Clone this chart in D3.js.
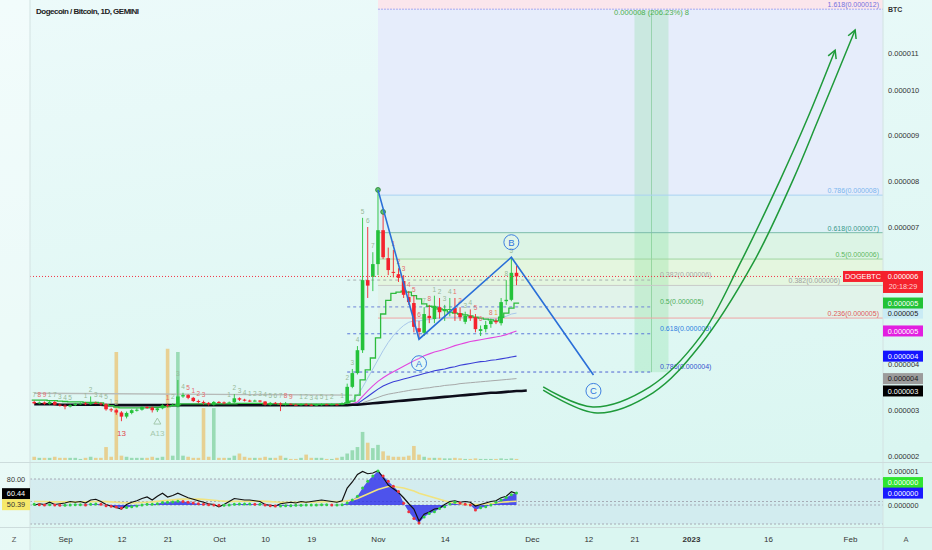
<!DOCTYPE html>
<html><head><meta charset="utf-8">
<script src="https://cdn.jsdelivr.net/npm/d3@7/dist/d3.min.js"></script>
<style>
html,body{margin:0;padding:0;background:#fff;}
svg{display:block;font-family:"Liberation Sans",Arial,sans-serif;}
</style></head><body>
<svg id="chart" width="932" height="550"></svg>
<script>
// ================= DATA =================
const title = "Dogecoin / Bitcoin, 1D, GEMINI";
const candleStart = "2022-08-26";           // first daily candle
// prices in units of 1e-6 BTC
const open = [
3.18,3.15,3.17,3.14,3.18,3.12,
3.10,3.08,3.11,3.14,3.15,3.13,3.16,3.15,3.13,3.02,
3.00,2.95,2.86,2.94,3.00,3.01,3.07,3.06,3.00,3.04,
3.11,3.10,3.08,3.30,3.33,3.27,3.20,3.18,3.16,3.12,
3.18,3.17,3.15,3.17,3.26,3.23,3.21,3.20,3.21,3.19,
3.12,3.16,3.15,3.12,3.14,3.12,3.11,3.13,3.12,3.11,
3.12,3.13,3.12,3.13,3.12,
3.15,3.51,3.81,4.31,5.84,5.91,
6.19,6.93,6.32,6.02,5.97,5.82,5.47,5.34,4.79,4.69,
5.06,4.99,5.25,5.16,5.19,5.23,5.12,4.93,5.06,5.03,
4.73,4.77,4.88,4.95,4.90,5.38,5.41,6.00];
const close = [
3.15,3.17,3.14,3.18,3.12,3.10,
3.08,3.11,3.14,3.15,3.13,3.16,3.15,3.13,3.02,3.00,
2.95,2.86,2.94,3.00,3.01,3.07,3.06,3.00,3.04,3.11,
3.10,3.12,3.30,3.33,3.27,3.20,3.18,3.16,3.13,3.18,
3.17,3.15,3.17,3.26,3.23,3.21,3.20,3.21,3.19,3.12,
3.16,3.15,3.12,3.14,3.12,3.11,3.13,3.12,3.11,3.12,
3.13,3.12,3.13,3.12,3.15,
3.51,3.81,4.31,5.84,5.72,6.19,
6.93,6.34,6.06,6.00,5.89,5.52,5.36,4.82,4.71,5.10,
5.01,5.28,5.14,5.21,5.21,5.12,5.03,5.06,5.01,4.77,
4.77,4.86,4.95,4.92,5.36,5.41,6.00,5.92];
const high = [
3.21,3.19,3.19,3.21,3.20,3.15,
3.13,3.13,3.16,3.17,3.18,3.30,3.19,3.17,3.15,3.05,
3.03,2.98,2.97,3.02,3.04,3.09,3.09,3.08,3.06,3.13,
3.14,3.15,3.66,3.38,3.35,3.29,3.23,3.21,3.18,3.20,
3.20,3.19,3.19,3.35,3.28,3.25,3.23,3.23,3.22,3.20,
3.18,3.18,3.17,3.18,3.15,3.14,3.15,3.15,3.14,3.14,
3.15,3.14,3.15,3.14,3.17,
3.58,3.90,4.40,7.20,7.00,6.45,
7.81,7.33,6.55,6.50,6.10,5.95,5.60,5.50,4.95,5.25,
5.30,5.50,5.45,5.30,5.45,5.45,5.25,5.15,5.20,5.10,
4.85,4.95,5.00,5.00,5.45,5.84,6.34,6.15];
const low = [
3.13,3.13,3.12,3.12,3.10,3.08,
3.02,3.06,3.09,3.12,3.11,3.12,3.13,3.10,2.99,2.96,
2.90,2.76,2.82,2.91,2.97,2.99,3.03,2.95,2.96,3.02,
3.06,3.08,3.06,3.27,3.24,3.18,3.15,3.12,3.10,3.10,
3.15,3.13,3.13,3.16,3.20,3.19,3.18,3.19,3.17,3.10,
3.10,3.13,2.98,3.10,3.11,3.10,3.10,3.10,3.09,3.10,
3.10,3.11,3.11,3.10,3.11,
3.13,3.48,3.78,4.25,5.45,5.60,
5.95,6.30,5.95,5.90,5.80,5.45,5.30,4.70,4.55,4.62,
4.90,4.90,5.00,4.95,5.05,4.95,4.95,4.88,4.95,4.70,
4.62,4.70,4.80,4.88,4.85,5.30,5.38,5.73];
const volume = [
3,2,2,2,3,2,
2,2,2,1,2,3,2,2,12,3,
100,4,3,2,2,2,2,3,2,3,
103,4,100,4,3,2,2,48,3,48,
2,2,2,4,6,3,2,2,2,3,
2,2,4,2,1,1,2,5,2,2,
2,1,1,2,3,
6,9,12,26,16,11,
14,8,4,3,3,3,4,13,5,3,
2,2,2,1.5,1.5,2,1.5,1,1,1.5,
1,1,1,1,1.5,1,1.5,1];
// step trend line (per candle)
const trendStep = [
3.22,3.22,3.22,3.21,3.21,3.20,
3.19,3.18,3.18,3.18,3.17,3.17,3.17,3.16,3.12,3.10,
3.07,3.05,3.05,3.05,3.05,3.05,3.05,3.06,3.06,3.07,
3.08,3.10,3.12,3.14,3.14,3.14,3.14,3.14,3.14,3.14,
3.14,3.14,3.14,3.14,3.15,3.15,3.15,3.15,3.15,3.14,
3.14,3.14,3.13,3.13,3.13,3.13,3.13,3.13,3.13,3.13,
3.13,3.13,3.13,3.13,3.14,
3.16,3.20,3.33,3.66,3.88,4.14,
4.58,5.10,5.40,5.55,5.58,5.60,5.58,5.50,5.43,5.32,
5.27,5.25,5.21,5.19,5.14,5.12,5.10,5.08,5.06,5.03,
5.01,4.99,4.97,4.95,5.03,5.12,5.23,5.34];
// long black average (runs 2 days past last candle)
const blackMA = [
3.13,3.13,3.13,3.13,3.13,3.12,
3.12,3.12,3.12,3.12,3.12,3.12,3.12,3.12,3.11,3.11,
3.11,3.11,3.11,3.11,3.11,3.11,3.11,3.11,3.11,3.11,
3.11,3.11,3.11,3.11,3.11,3.11,3.11,3.11,3.11,3.11,
3.11,3.11,3.11,3.11,3.11,3.11,3.11,3.11,3.11,3.11,
3.11,3.11,3.11,3.11,3.11,3.11,3.11,3.11,3.11,3.11,
3.11,3.11,3.11,3.11,3.11,
3.11,3.12,3.12,3.13,3.14,3.15,
3.16,3.17,3.18,3.19,3.20,3.21,3.22,3.23,3.24,3.25,
3.26,3.27,3.28,3.29,3.30,3.31,3.32,3.33,3.34,3.35,
3.36,3.37,3.38,3.38,3.39,3.40,3.41,3.42,3.42,3.43];
// shorter averages starting 2022-10-25
const maStart = "2022-10-25";
const paleMA = [3.14,3.16,3.22,3.32,3.50,3.70,3.90,
4.10,4.30,4.48,4.63,4.75,4.85,4.92,4.95,4.95,4.97,4.98,5.00,5.01,5.02,5.03,5.03,5.03,5.03,5.03,5.02,5.00,4.99,4.99,4.99,5.02,5.05,5.10,5.12];
const magentaMA = [3.12,3.12,3.14,3.18,3.30,3.42,3.53,
3.63,3.71,3.78,3.84,3.90,3.96,4.02,4.08,4.13,4.19,4.23,4.27,4.30,4.33,4.37,4.41,4.44,4.47,4.50,4.52,4.54,4.56,4.58,4.60,4.62,4.65,4.69,4.73];
const blueMA = [3.12,3.12,3.12,3.14,3.22,3.30,3.38,
3.46,3.53,3.58,3.62,3.65,3.68,3.71,3.74,3.77,3.80,3.83,3.86,3.88,3.90,3.93,3.95,3.98,4.00,4.02,4.04,4.06,4.07,4.09,4.10,4.12,4.14,4.16,4.18];
const grayMA = [3.12,3.12,3.12,3.13,3.16,3.20,3.24,
3.28,3.32,3.35,3.37,3.39,3.41,3.43,3.45,3.46,3.48,3.49,3.51,3.52,3.54,3.55,3.56,3.58,3.59,3.60,3.61,3.62,3.63,3.64,3.65,3.66,3.67,3.68,3.69];
const upperBand = {from:"2022-08-26", to:"2022-10-27", p0:3.37, p1:3.33};
// indicator pane
const rsi = [
45,47,46,49,46,47,
48,50,49,50,48,52,53,50,46,44,
42,40,46,49,51,54,56,52,57,61,
56,58,61,58,55,53,51,49,47,46,
43,46,50,54,53,52,52,51,50,46,
45,44,47,48,49,48,50,49,50,51,
52,51,50,49,51,
68,76,86,90,87,88,
91,82,72,67,62,55,47,40,24,33,
36,40,41,46,50,51,49,50,49,44,
46,48,50,51,55,57,63,60.44];
const rsiMA = [
50,50,50,49.5,49.5,49.5,
49.5,49.5,49.5,49.6,49.6,49.8,50,50,49.8,49.5,
49,48.5,48.3,48.2,48.3,48.6,49,49.5,50.2,51,
51.7,52.2,52.8,53.2,53.4,53.4,53.2,52.8,52.3,51.7,
51,50.5,50.2,50.2,50.3,50.4,50.5,50.5,50.5,50.2,
49.8,49.4,49.1,48.9,48.8,48.8,48.9,49,49.1,49.3,
49.5,49.7,49.8,49.8,49.9,
51,52,54,57,60,63,
66,68,70,70,69,68,66,64,61,59,
57,55,53,51,49,48,47,46,46,46,
46,47,47,48,49,49.5,50,50.39];
const osc = [ // 1e-6 units
0.02,0.01,0.0,0.01,0.0,-0.01,
-0.01,0.0,0.01,0.01,0.0,0.02,0.03,0.02,-0.02,-0.04,
-0.06,-0.09,-0.07,-0.05,-0.03,0.0,0.02,0.02,0.04,0.07,
0.08,0.09,0.11,0.10,0.08,0.06,0.04,0.02,0.01,0.0,
-0.01,-0.01,0.0,0.02,0.03,0.03,0.03,0.02,0.02,0.0,
-0.02,-0.03,-0.03,-0.02,-0.02,-0.01,-0.01,0.0,0.0,0.0,
0.01,0.01,0.0,0.0,0.01,
0.06,0.15,0.26,0.5,0.7,0.85,
1.0,0.85,0.7,0.55,0.4,0.05,-0.2,-0.4,-0.53,-0.35,
-0.25,-0.2,-0.1,-0.05,0.03,0.08,0.06,0.02,0.0,-0.15,
-0.08,-0.05,0.0,0.08,0.15,0.22,0.3,0.35];
const oscLineLabels = [0.66, 0.35];     // right-scale markers of the oscillator
const rsiLevels = [80, 50, 20];
// axes
const priceTicks = [2,3,4,5,6,7,8,9,10,10.8];
const timeTicks = [["2022-09-01","Sep"],["2022-09-12","12"],["2022-09-21","21"],["2022-10-01","Oct"],["2022-10-10","10"],["2022-10-19","19"],["2022-11-01","Nov"],["2022-11-14","14"],["2022-12-01","Dec"],["2022-12-12","12"],["2022-12-21","21"],["2023-01-01","2023"],["2023-01-16","16"],["2023-02-01","Feb"]];
// drawings
const fibA = {from:"2022-11-01", p0:3.86, p1:8.74, levels:[0.236,0.382,0.5,0.618,0.786,1.618,2.618]};
const fibB = {from:"2022-10-26", to:"2022-12-24T10:00", p0:7.74, p1:2.77, levels:[0.382,0.5,0.618,0.786]};
const measure = {from:"2022-12-21", to:"2022-12-27T15:00", p0:3.83, p1:11.73, text:"0.000008 (206.23%) 8"};
const abc = [["2022-11-01",7.81,""],["2022-11-09",4.55,"A"],["2022-11-27",6.34,"B"],["2022-12-13",3.77,"C"]];
// curved projection arrows: [days after 2022-09-01, price]
const arrowInner = [[93.2,3.51],[102.9,3.07],[114.0,3.51],[123.8,4.60],[131.6,6.21],[139.4,8.03],[144.6,9.34],[150.1,10.86]];
const arrowOuter = [[93.2,3.44],[103.7,2.94],[114.6,3.38],[123.8,4.42],[134.1,6.21],[141.9,8.03],[146.8,9.34],[154.0,11.30]];
// TD sequential style counts above candles
const tdCounts = [["2022-10-25","1","g"],["2022-10-26","2","g"],["2022-10-27","3","g"],["2022-10-28","4","g"],["2022-10-29","5","g"],["2022-10-30","6","g"],["2022-10-31","7","g"],
["2022-11-04","1","r"],["2022-11-05","2","r"],["2022-11-06","3","r"],["2022-11-07","4","r"],["2022-11-08","5","r"],["2022-11-09","6","r"],["2022-11-10","7","g"],["2022-11-11","8","r"],
["2022-11-12","1","g"],["2022-11-13","2","g"],["2022-11-14","3","g"],["2022-11-15","4","g"],["2022-11-16","1","r"],["2022-11-17","2","r"],["2022-11-18","3","g"],["2022-11-19","4","g"],["2022-11-20","5","r"],["2022-11-21","6","r"],["2022-11-23","8","r"],["2022-11-24","1","o"],["2022-11-26","8","g"],["2022-11-27","5","g"],
["2022-08-26","7","g"],["2022-08-27","8","r"],["2022-08-28","9","r"],["2022-08-29","1","g"],["2022-08-30","7","g"],["2022-08-31","3","g"],["2022-09-01","4","g"],["2022-09-02","5","g"],["2022-09-05","1","g"],["2022-09-06","2","g"],["2022-09-07","3","g"],["2022-09-08","4","g"],["2022-09-09","5","g"],["2022-09-10","1","g"],["2022-09-11","2","g"],
["2022-09-21","1","r"],["2022-09-22","2","g"],["2022-09-23","3","g"],["2022-09-24","4","g"],["2022-09-25","5","r"],["2022-09-26","1","r"],["2022-09-27","2","r"],["2022-09-28","3","r"],
["2022-10-03","1","g"],["2022-10-04","2","g"],["2022-10-05","3","g"],["2022-10-06","4","g"],["2022-10-07","1","g"],["2022-10-08","2","g"],["2022-10-09","3","g"],["2022-10-10","4","g"],["2022-10-11","5","g"],["2022-10-12","6","g"],["2022-10-13","7","g"],["2022-10-14","8","r"],["2022-10-15","9","r"],["2022-10-17","1","g"],["2022-10-18","2","g"],["2022-10-19","3","g"],["2022-10-20","4","g"],["2022-10-21","5","g"],["2022-10-22","1","g"],["2022-10-23","2","g"]];
const tdBelow = [["2022-09-12","13","#e0474c",15],["2022-09-19","A13","#a4c8ac",24]];
const pivotMarks = ["2022-11-01","2022-11-02"];
const lastTime = "20:18:29";
const symbol = "DOGEBTC";

// ================= SCALES =================
const P = d3.isoParse;
const base = P(candleStart);
const dates = close.map((_, i) => d3.utcDay.offset(base, i));
const maBase = P(maStart);
const sep1 = P("2022-09-01");
const dOff = d => new Date(sep1.getTime() + d * 864e5);
const x = d3.scaleUtc().domain([P("2022-09-01"), P("2023-02-01")]).range([65, 850]);
const y = d3.scaleLinear().domain([7, 2]).range([227, 456]);
const yVol = d3.scaleLinear().domain([0, 100]).range([460, 352]);
const yRsi = d3.scaleLinear().domain([20, 80]).range([524, 479]);
const yOsc = d3.scaleLinear().domain([0, 1]).range([505, 471]);
const fmt = v => (v * 1e-6).toFixed(6);
const PL = 30, PR = 883, MB = 462, IT = 463, IB = 527;
const bw = 3.6;

const svg = d3.select("#chart");
const defs = svg.append("defs");
const gr = defs.append("linearGradient").attr("id", "bg").attr("x1", 0).attr("y1", 0).attr("x2", 0.25).attr("y2", 1);
gr.append("stop").attr("offset", "0%").attr("stop-color", "#ecfafa");
gr.append("stop").attr("offset", "100%").attr("stop-color", "#daf6f1");
defs.append("clipPath").attr("id", "cm").append("rect").attr("x", PL).attr("y", 0).attr("width", PR - PL).attr("height", MB);
defs.append("clipPath").attr("id", "ci").append("rect").attr("x", PL).attr("y", IT).attr("width", PR - PL).attr("height", IB - IT);

svg.append("rect").attr("width", 932).attr("height", 550).attr("fill", "url(#bg)");
svg.append("rect").attr("x", 0).attr("y", 0).attr("width", PL).attr("height", 550).attr("fill", "#ffffff").attr("opacity", 0.35);

const gm = svg.append("g").attr("clip-path", "url(#cm)");

// ---- Fib A zones ----
const fa = L => fibA.p0 + (fibA.p1 - fibA.p0) * L;
const faX = x(P(fibA.from));
const zoneFill = ["#e1f3ea", "#e4f6df", "#dcf4e5", "#ddf1f6", "#e6edfb", "#fbe6ec"];
for (let i = 0; i < fibA.levels.length - 1; i++) {
  const ya = y(fa(fibA.levels[i])), yb = y(fa(fibA.levels[i + 1]));
  gm.append("rect").attr("x", faX).attr("y", yb).attr("width", PR - faX).attr("height", ya - yb).attr("fill", zoneFill[i]);
}
// measure band
const mx0 = x(P(measure.from)), mx1 = x(P(measure.to));
gm.append("rect").attr("x", mx0).attr("y", y(measure.p1)).attr("width", mx1 - mx0).attr("height", y(measure.p0) - y(measure.p1))
  .attr("fill", "rgba(90,215,120,0.2)");
gm.append("line").attr("x1", (mx0 + mx1) / 2).attr("x2", (mx0 + mx1) / 2).attr("y1", y(measure.p1)).attr("y2", y(measure.p0))
  .attr("stroke", "rgba(60,170,80,0.35)").attr("stroke-width", 1);

const faLine = {0.236: "#f0a4a4", 0.382: "#c8cac8", 0.5: "#9fd69f", 0.618: "#7cbcaa", 0.786: "#aad2f2", 1.618: "#a6a6f0"};
const faText = {0.236: "#e05a5a", 0.382: "#a0a0a0", 0.5: "#5cb85c", 0.618: "#39998a", 0.786: "#7ab6ee", 1.618: "#7272e0"};
fibA.levels.slice(0, 6).forEach(L => {
  const yy = y(fa(L));
  gm.append("line").attr("x1", faX).attr("x2", PR).attr("y1", yy).attr("y2", yy).attr("stroke", faLine[L])
    .attr("stroke-width", 1).attr("stroke-dasharray", L === 1.618 ? "2,1" : null);
  // the 0.382 label would sit under the symbol tag, so it ends just left of it
  const tx = L === 0.382 ? 840 : PR - 4;
  gm.append("text").attr("x", tx).attr("y", yy - 2).attr("text-anchor", "end").attr("font-size", 7)
    .attr("fill", faText[L]).text(`${L}(${fmt(fa(L))})`);
});
// measure label
gm.append("text").attr("x", (mx0 + mx1) / 2).attr("y", y(measure.p1) + 5).attr("text-anchor", "middle").attr("font-size", 7.6)
  .attr("fill", "#4cb050").text(measure.text);

// ---- Fib B ----
const fb = L => fibB.p0 + (fibB.p1 - fibB.p0) * L;
const fbX0 = x(P(fibB.from)), fbX1 = x(P(fibB.to));
const fbLine = {0.382: "#a8b0b0", 0.5: "#6e84d8", 0.618: "#5a78da", 0.786: "#5064d2"};
const fbText = {0.382: "#aaaaaa", 0.5: "#4caf5c", 0.618: "#2f80e0", 0.786: "#3752d0"};
fibB.levels.forEach(L => {
  const yy = y(fb(L));
  gm.append("line").attr("x1", fbX0).attr("x2", fbX1).attr("y1", yy).attr("y2", yy).attr("stroke", fbLine[L])
    .attr("stroke-width", 1).attr("stroke-dasharray", "3,3");
  gm.append("text").attr("x", fbX1 + 8).attr("y", yy - 3).attr("font-size", 7).attr("fill", fbText[L]).text(`${L}(${fmt(fb(L))})`);
});

// ---- volume ----
gm.selectAll(".vol").data(volume).join("rect")
  .attr("x", (d, i) => x(dates[i]) - bw / 2).attr("width", bw)
  .attr("y", d => yVol(d)).attr("height", d => yVol(0) - yVol(d))
  .attr("fill", (d, i) => close[i] >= open[i] ? "rgba(60,180,95,0.42)" : "rgba(240,170,50,0.5)");

// ---- averages ----
gm.append("line").attr("x1", x(P(upperBand.from))).attr("x2", x(P(upperBand.to)))
  .attr("y1", y(upperBand.p0)).attr("y2", y(upperBand.p1)).attr("stroke", "#b6bab8").attr("stroke-width", 1.3);
const maLine = d3.line().x((d, i) => x(d3.utcDay.offset(maBase, i))).y(d => y(d));
[[grayMA, "#a7a9a9", 1], [blueMA, "#3b3fd6", 1.1], [magentaMA, "#e246de", 1.1], [paleMA, "#a9c8ea", 1]].forEach(([arr, c, w]) => {
  gm.append("path").attr("d", maLine(arr)).attr("fill", "none").attr("stroke", c).attr("stroke-width", w);
});
gm.append("path").attr("d", d3.line().x((d, i) => x(d3.utcDay.offset(base, i))).y(d => y(d))(blackMA))
  .attr("fill", "none").attr("stroke", "#0d0d1a").attr("stroke-width", 2.6);
const stepData = trendStep.concat([trendStep[trendStep.length - 1]]);
gm.append("path").attr("d", d3.line().curve(d3.curveStepAfter).x((d, i) => x(d3.utcDay.offset(base, i)) - 2.5).y(d => y(d))(stepData))
  .attr("fill", "none").attr("stroke", "#2dbb3c").attr("stroke-width", 1.3);

// ---- current price line ----
const lastC = close[close.length - 1];
svg.append("line").attr("x1", PL).attr("x2", PR).attr("y1", y(lastC)).attr("y2", y(lastC))
  .attr("stroke", "#f23645").attr("stroke-width", 1).attr("stroke-dasharray", "1,2");

// ---- candles ----
const up = "#24c23a", dn = "#f5222d";
const cg = gm.append("g");
close.forEach((c, i) => {
  const cx = x(dates[i]), col = c >= open[i] ? up : dn;
  cg.append("line").attr("x1", cx).attr("x2", cx).attr("y1", y(high[i])).attr("y2", y(low[i])).attr("stroke", col).attr("stroke-width", 0.9);
  const t = y(Math.max(open[i], c)), b = y(Math.min(open[i], c));
  cg.append("rect").attr("x", cx - bw / 2).attr("width", bw).attr("y", t).attr("height", Math.max(1, b - t)).attr("fill", col);
});
// TD counts
const tdCol = {g: "#98b898", r: "#e66a6a", o: "#e9a23b"};
const idxOf = s => Math.round((P(s) - base) / 864e5);
tdCounts.forEach(([d, t, c]) => {
  const i = idxOf(d);
  gm.append("text").attr("x", x(dates[i])).attr("y", y(high[i]) - 4).attr("text-anchor", "middle").attr("font-size", 6.5)
    .attr("fill", tdCol[c]).text(t);
});
tdBelow.forEach(([d, t, c, off]) => {
  const i = idxOf(d);
  gm.append("text").attr("x", x(dates[i])).attr("y", y(low[i]) + off).attr("text-anchor", "middle").attr("font-size", 8)
    .attr("fill", c).text(t);
});
{ const i = idxOf("2022-09-19"); const cx = x(dates[i]), cy = y(low[i]) + 10;
  gm.append("path").attr("d", `M${cx},${cy - 4}L${cx + 3.5},${cy + 2}L${cx - 3.5},${cy + 2}Z`).attr("fill", "none").attr("stroke", "#a4c8ac"); }
pivotMarks.forEach(d => {
  const i = idxOf(d);
  gm.append("circle").attr("cx", x(dates[i])).attr("cy", y(high[i])).attr("r", 2.4).attr("fill", "#62c46a").attr("stroke", "#1e7d2e").attr("stroke-width", 0.8);
});

// ---- ABC wave ----
const abcPts = abc.map(([d, p]) => [x(P(d)), y(p)]);
gm.append("path").attr("d", d3.line()(abcPts)).attr("fill", "none").attr("stroke", "#2a6fd8").attr("stroke-width", 1.6);
const lblOff = {A: 24, B: -15, C: 16};
abc.forEach(([d, p, l], i) => {
  if (!l) return;
  const cx = abcPts[i][0], cy = abcPts[i][1] + lblOff[l];
  gm.append("circle").attr("cx", cx).attr("cy", cy).attr("r", 7.5).attr("fill", "rgba(255,255,255,0.15)").attr("stroke", "#3d7fe0").attr("stroke-width", 1);
  gm.append("text").attr("x", cx).attr("y", cy + 3.4).attr("text-anchor", "middle").attr("font-size", 9.5).attr("fill", "#2f74dc").text(l);
});

// ---- projection arrows ----
const curve = d3.line().curve(d3.curveCatmullRom.alpha(0.5)).x(d => x(dOff(d[0]))).y(d => y(d[1]));
[arrowInner, arrowOuter].forEach(arr => {
  gm.append("path").attr("d", curve(arr)).attr("fill", "none").attr("stroke", "#1f9a3a").attr("stroke-width", 1.5);
  const a = arr[arr.length - 2], b = arr[arr.length - 1];
  const p1 = [x(dOff(a[0])), y(a[1])], p2 = [x(dOff(b[0])), y(b[1])];
  const ang = Math.atan2(p2[1] - p1[1], p2[0] - p1[0]), L = 9, s = 0.5;
  gm.append("path").attr("d", `M${p2[0] - L * Math.cos(ang - s)},${p2[1] - L * Math.sin(ang - s)}L${p2[0]},${p2[1]}L${p2[0] - L * Math.cos(ang + s)},${p2[1] - L * Math.sin(ang + s)}`)
    .attr("fill", "none").attr("stroke", "#1f9a3a").attr("stroke-width", 1.5);
});

// ================= INDICATOR PANE =================
const gi = svg.append("g").attr("clip-path", "url(#ci)");
gi.append("rect").attr("x", PL).attr("y", yRsi(80)).attr("width", PR - PL).attr("height", yRsi(20) - yRsi(80)).attr("fill", "rgba(120,110,210,0.07)");
rsiLevels.forEach(v => gi.append("line").attr("x1", PL).attr("x2", PR).attr("y1", yRsi(v)).attr("y2", yRsi(v))
  .attr("stroke", "#9a9aa6").attr("stroke-dasharray", "2,2").attr("stroke-width", 0.8));
gi.append("line").attr("x1", PL).attr("x2", PR).attr("y1", yOsc(0)).attr("y2", yOsc(0)).attr("stroke", "#9a9aa6").attr("stroke-dasharray", "2,2").attr("stroke-width", 0.8);
gi.append("path").attr("d", d3.area().x((d, i) => x(dates[i])).y0(yOsc(0)).y1(d => yOsc(d))(osc)).attr("fill", "rgba(40,40,235,0.78)");
gi.append("path").attr("d", d3.line().x((d, i) => x(dates[i])).y(d => yRsi(d))(rsiMA)).attr("fill", "none").attr("stroke", "#f1e37e").attr("stroke-width", 1.6);
gi.append("path").attr("d", d3.line().x((d, i) => x(dates[i])).y(d => yRsi(d))(rsi)).attr("fill", "none").attr("stroke", "#111").attr("stroke-width", 1.2);
osc.forEach((v, i) => {
  gi.append("circle").attr("cx", x(dates[i])).attr("cy", yOsc(v)).attr("r", 1.5)
    .attr("fill", i === 0 || v >= osc[i - 1] ? "#2fd046" : "#f0323c");
});

// ================= FRAME & AXES =================
svg.append("line").attr("x1", PL).attr("x2", PL).attr("y1", 0).attr("y2", 550).attr("stroke", "#d3e2e2");
svg.append("line").attr("x1", PR).attr("x2", PR).attr("y1", 0).attr("y2", 550).attr("stroke", "#d3e2e2");
svg.append("line").attr("x1", 0).attr("x2", 932).attr("y1", MB + 0.5).attr("y2", MB + 0.5).attr("stroke", "#cddcdc");
svg.append("line").attr("x1", 0).attr("x2", 932).attr("y1", IB + 0.5).attr("y2", IB + 0.5).attr("stroke", "#cddcdc");

svg.append("text").attr("x", 36).attr("y", 14).attr("font-size", 8).attr("font-weight", "bold").attr("fill", "#222")
  .attr("textLength", 103).text(title);

// value tags on the price scale (computed first so covered ticks can be left out)
const lastOf = a => a[a.length - 1];
const lastC2 = close[close.length - 1];
const tags = [
  [lastOf(blackMA.slice(0, close.length)), "#000", "#fff"],
  [lastOf(grayMA), "#9c9c9c", "#1a1a1a"],
  [lastOf(blueMA), "#1414ff", "#fff"],
  [lastOf(magentaMA), "#e21fe0", "#fff"],
  [lastOf(paleMA), "#c9ebf5", "#222"],
  [lastOf(trendStep), "#22c236", "#fff"]];
const tagYs = tags.map(t => y(t[0])).concat([y(lastC2), y(lastC2) + 11]);

// price axis
const shownTicks = priceTicks.filter(v => tagYs.every(ty => Math.abs(y(v) - ty) > 8));
const ay = svg.append("g").attr("transform", `translate(${PR},0)`)
  .call(d3.axisRight(y).tickValues(shownTicks).tickFormat(fmt).tickSize(0).tickPadding(5));
ay.select(".domain").remove();
ay.selectAll("text").attr("font-size", 7.5).attr("fill", "#333").attr("font-family", "Liberation Sans, Arial, sans-serif");
svg.append("text").attr("x", 888).attr("y", 12).attr("font-size", 7).attr("font-weight", "bold").attr("fill", "#333").text("BTC");

// time axis
const tmap = new Map(timeTicks.map(([d, t]) => [+P(d), t]));
const ax = svg.append("g").attr("transform", `translate(0,${IB})`)
  .call(d3.axisBottom(x).tickValues(timeTicks.map(t => P(t[0]))).tickFormat(d => tmap.get(+d)).tickSize(0).tickPadding(9));
ax.select(".domain").remove();
ax.selectAll("text").attr("font-size", 8).attr("fill", "#333").attr("font-family", "Liberation Sans, Arial, sans-serif")
  .attr("font-weight", d => tmap.get(+d) === "2023" ? "bold" : null);
svg.append("text").attr("x", 14).attr("y", 542).attr("text-anchor", "middle").attr("font-size", 7.5).attr("fill", "#555").text("Z");
svg.append("text").attr("x", 906).attr("y", 542).attr("text-anchor", "middle").attr("font-size", 7.5).attr("fill", "#555").text("A");

function box(yc, txt, bg, fg, x0 = PR, w = 40) {
  svg.append("rect").attr("x", x0).attr("y", yc - 5.5).attr("width", w).attr("height", 11).attr("fill", bg);
  svg.append("text").attr("x", x0 + w / 2).attr("y", yc + 2.6).attr("text-anchor", "middle").attr("font-size", 7.3).attr("fill", fg).text(txt);
}
tags.forEach(([v, bg, fg]) => box(y(v), fmt(v), bg, fg));
// current price + countdown
const cy = y(lastC2);
svg.append("rect").attr("x", PR).attr("y", cy - 5.5).attr("width", 40).attr("height", 22).attr("fill", "#f5222d");
svg.append("text").attr("x", PR + 20).attr("y", cy + 2.6).attr("text-anchor", "middle").attr("font-size", 7.3).attr("fill", "#fff").text(fmt(lastC2));
svg.append("text").attr("x", PR + 20).attr("y", cy + 13).attr("text-anchor", "middle").attr("font-size", 7.3).attr("fill", "#ffd6d6").text(lastTime);
box(cy, symbol, "#f5222d", "#fff", 843, 40);

// indicator scales labels
svg.append("text").attr("x", 16).attr("y", yRsi(80) + 2.6).attr("text-anchor", "middle").attr("font-size", 7.3).attr("fill", "#333").text("80.00");
const yr1 = yRsi(lastOf(rsi)), yr2 = Math.max(yRsi(lastOf(rsiMA)), yr1 + 11);
svg.append("rect").attr("x", 2).attr("y", yr1 - 5.5).attr("width", 28).attr("height", 11).attr("fill", "#000");
svg.append("text").attr("x", 16).attr("y", yr1 + 2.6).attr("text-anchor", "middle").attr("font-size", 7.3).attr("fill", "#fff").text(lastOf(rsi).toFixed(2));
svg.append("rect").attr("x", 2).attr("y", yr2 - 5.5).attr("width", 28).attr("height", 11).attr("fill", "#f6e86a");
svg.append("text").attr("x", 16).attr("y", yr2 + 2.6).attr("text-anchor", "middle").attr("font-size", 7.3).attr("fill", "#333").text(lastOf(rsiMA).toFixed(2));
svg.append("text").attr("x", 888).attr("y", yOsc(1) + 2.6).attr("font-size", 7.3).attr("fill", "#333").text(fmt(1));
svg.append("text").attr("x", 888).attr("y", yOsc(0) + 2.6).attr("font-size", 7.3).attr("fill", "#333").text(fmt(0));
box(yOsc(oscLineLabels[0]), fmt(0), "#2fe52f", "#fff");
box(yOsc(oscLineLabels[1]), fmt(0), "#1a1aff", "#fff");
</script>
</body></html>
